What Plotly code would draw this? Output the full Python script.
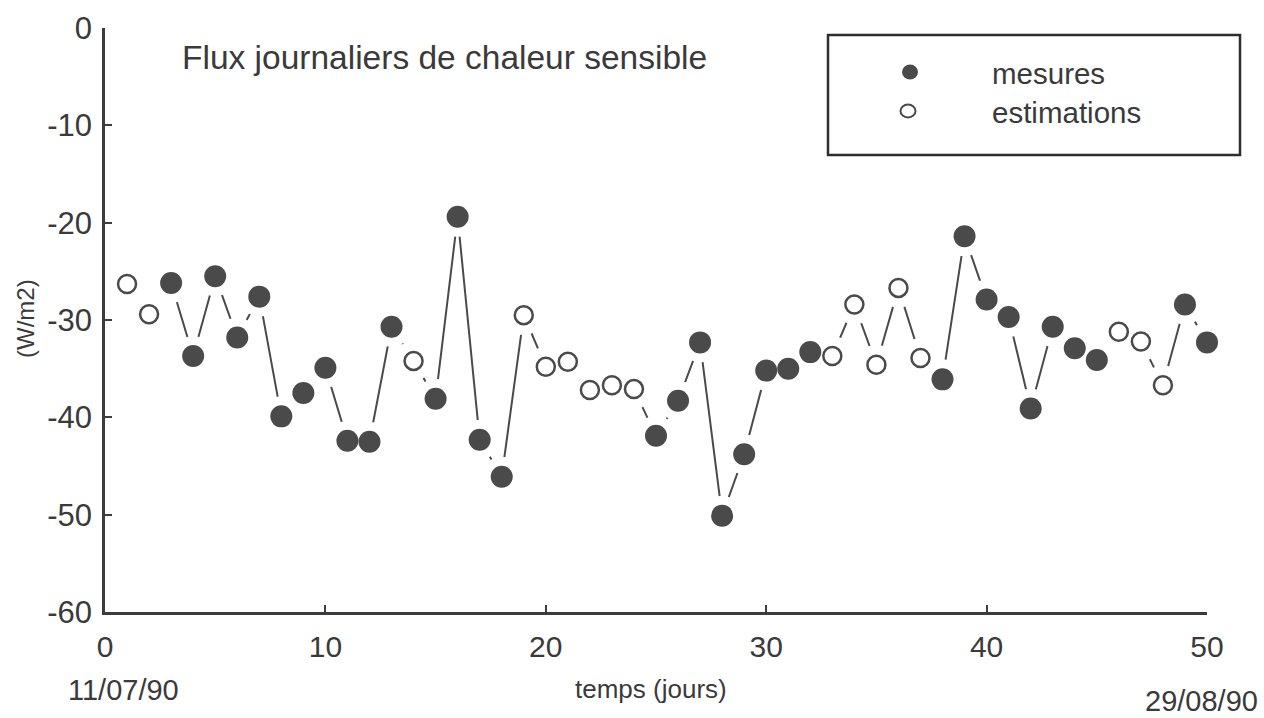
import plotly.graph_objects as go

# ---- data ----
jours = [1, 2, 3, 4, 5, 6, 7, 8, 9, 10,
         11, 12, 13, 14, 15, 16, 17, 18, 19, 20,
         21, 22, 23, 24, 25, 26, 27, 28, 29, 30,
         31, 32, 33, 34, 35, 36, 37, 38, 39, 40,
         41, 42, 43, 44, 45, 46, 47, 48, 49, 50]
flux = [-26.3, -29.4, -26.2, -33.7, -25.5, -31.8, -27.6, -39.9, -37.5, -34.9,
        -42.4, -42.5, -30.7, -34.2, -38.1, -19.4, -42.3, -46.1, -29.5, -34.8,
        -34.3, -37.2, -36.7, -37.1, -41.9, -38.3, -32.3, -50.1, -43.8, -35.2,
        -35.0, -33.3, -33.7, -28.4, -34.6, -26.7, -33.9, -36.1, -21.4, -27.9,
        -29.7, -39.1, -30.7, -32.9, -34.1, -31.2, -32.2, -36.7, -28.4, -32.3]
# M = mesure, E = estimation
type_point = ["E", "E", "M", "M", "M", "M", "M", "M", "M", "M",
              "M", "M", "M", "E", "M", "M", "M", "M", "E", "E",
              "E", "E", "E", "E", "M", "M", "M", "M", "M", "M",
              "M", "M", "E", "E", "E", "E", "E", "M", "M", "M",
              "M", "M", "M", "M", "M", "E", "E", "E", "M", "M"]
x_ticks = [0, 10, 20, 30, 40, 50]
x_labels = ["0", "10", "20", "30", "40", "50"]
y_ticks = [-60, -50, -40, -30, -20, -10, 0]
y_labels = ["-60", "-50", "-40", "-30", "-20", "-10", "0"]

date_debut = "11/07/90"
date_fin = "29/08/90"

# ---- layout geometry (pixels) ----
W, H = 1264, 718
L, R, T, B = 105, 57, 28, 106
PW, PH = W - L - R, H - T - B

def px(x):
    return (x - L) / PW

def py(y):
    return (H - B - y) / PH

INK = "#4a4a4a"
TXT = "#3a3a3a"
FONT = "Liberation Sans, Arial, Helvetica, sans-serif"

mx = [j for j, t in zip(jours, type_point) if t == "M"]
my = [v for v, t in zip(flux, type_point) if t == "M"]
ex = [j for j, t in zip(jours, type_point) if t == "E"]
ey = [v for v, t in zip(flux, type_point) if t == "E"]

fig = go.Figure()
fig.add_trace(go.Scatter(x=jours, y=flux, mode="lines",
                         line=dict(color=INK, width=2), hoverinfo="skip",
                         showlegend=False, cliponaxis=False))
fig.add_trace(go.Scatter(x=jours, y=flux, mode="markers",
                         marker=dict(color="white", size=40, line=dict(width=0)),
                         hoverinfo="skip", showlegend=False, cliponaxis=False))
fig.add_trace(go.Scatter(x=mx, y=my, mode="markers", name="mesures",
                         marker=dict(color=INK, size=22, line=dict(width=0)),
                         showlegend=False, cliponaxis=False))
fig.add_trace(go.Scatter(x=ex, y=ey, mode="markers", name="estimations",
                         marker=dict(color="white", size=18,
                                     line=dict(color=INK, width=2.5)),
                         showlegend=False, cliponaxis=False))

axis_common = dict(showgrid=False, zeroline=False, showline=True,
                   linecolor="#3c3c3c", linewidth=2.5, ticks="inside",
                   ticklen=7, tickwidth=2, tickcolor="#3c3c3c")

fig.update_layout(
    width=W, height=H,
    margin=dict(l=L, r=R, t=T, b=B),
    paper_bgcolor="white", plot_bgcolor="white",
    xaxis=dict(range=[0, 50], tickvals=x_ticks, ticktext=x_labels,
               ticklabelstandoff=6,
               tickfont=dict(family=FONT, size=30, color=TXT),
               **axis_common),
    yaxis=dict(range=[-60, 0], tickvals=y_ticks, ticktext=y_labels,
               ticklabelstandoff=4,
               tickfont=dict(family=FONT, size=31, color=TXT),
               **axis_common),
    showlegend=False,
)

ann = [
    dict(text="Flux journaliers de chaleur sensible", x=px(180), y=py(58),
         xanchor="left", yanchor="middle", font=dict(size=33.5)),
    dict(text="mesures", x=px(990), y=py(74), xanchor="left", yanchor="middle",
         font=dict(size=29.5)),
    dict(text="estimations", x=px(990), y=py(113), xanchor="left",
         yanchor="middle", font=dict(size=29.5)),
    dict(text="(W/m2)", x=px(25), y=py(319), xanchor="center", yanchor="middle",
         textangle=-90, font=dict(size=24)),
    dict(text=date_debut, x=px(123), y=py(690), xanchor="center",
         yanchor="middle", font=dict(size=29)),
    dict(text="temps (jours)", x=px(651), y=py(689), xanchor="center",
         yanchor="middle", font=dict(size=26)),
    dict(text=date_fin, x=px(1201), y=py(701), xanchor="center",
         yanchor="middle", font=dict(size=29)),
]
for a in ann:
    a.update(xref="paper", yref="paper", showarrow=False)
    a["font"].update(family=FONT, color=TXT)
fig.update_layout(annotations=ann)

shapes = [
    dict(type="rect", xref="paper", yref="paper", x0=px(828), x1=px(1240),
         y0=py(155), y1=py(35), line=dict(color="#2e2e2e", width=2.5),
         fillcolor="rgba(0,0,0,0)"),
    dict(type="circle", xref="paper", yref="paper", xsizemode="pixel",
         ysizemode="pixel", xanchor=px(910), yanchor=py(72),
         x0=-8, x1=8, y0=-7.5, y1=7.5, fillcolor=INK, line=dict(width=0)),
    dict(type="circle", xref="paper", yref="paper", xsizemode="pixel",
         ysizemode="pixel", xanchor=px(908), yanchor=py(111),
         x0=-7.5, x1=7.5, y0=-6.5, y1=6.5, fillcolor="white",
         line=dict(color=INK, width=2)),
]
fig.update_layout(shapes=shapes)

fig.write_html("out.html")
